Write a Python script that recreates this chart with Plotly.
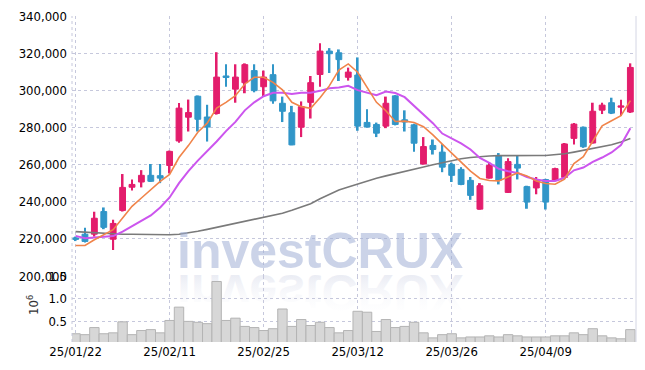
import base64
import plotly.graph_objects as go

dates = ["25/01/22", "25/01/23", "25/01/24", "25/01/31",
         "25/02/03", "25/02/04", "25/02/05", "25/02/06", "25/02/07", "25/02/10",
         "25/02/11", "25/02/12", "25/02/13", "25/02/14", "25/02/17", "25/02/18",
         "25/02/19", "25/02/20", "25/02/21", "25/02/24", "25/02/25", "25/02/26",
         "25/02/27", "25/02/28", "25/03/04", "25/03/05", "25/03/06", "25/03/07",
         "25/03/10", "25/03/11", "25/03/12", "25/03/13", "25/03/14", "25/03/17",
         "25/03/18", "25/03/19", "25/03/20", "25/03/21", "25/03/24", "25/03/25",
         "25/03/26", "25/03/27", "25/03/28", "25/03/31", "25/04/01", "25/04/02",
         "25/04/03", "25/04/04", "25/04/07", "25/04/08", "25/04/09", "25/04/10",
         "25/04/11", "25/04/14", "25/04/15", "25/04/16", "25/04/17", "25/04/18",
         "25/04/21", "25/04/22"]

open_ = [220500, 222500, 222500, 234700, 219800, 235300, 247800, 250600, 254200, 254000,
         259500, 272700, 285500, 296800, 285600, 287500, 307700, 300600, 304100, 310600,
         301900, 308400, 293000, 287900, 280100, 293500, 308500, 321100, 320200, 307000,
         308200, 282700, 281600, 280700, 297000, 284100, 281400, 260300, 270300, 266700,
         260100, 257400, 251500, 236000, 252700, 264800, 245000, 260100, 248100, 247400,
         251900, 251500, 253100, 274100, 280100, 271600, 289300, 293300, 290900, 288300]
high = [221200, 226000, 234600, 236900, 230300, 254900, 252000, 257000, 260300, 260300,
        267500, 293100, 295000, 297200, 292200, 320500, 314000, 314000, 314500, 314000,
        310600, 314000, 296600, 291600, 294000, 307700, 325300, 322700, 322000, 312200,
        317700, 289800, 282600, 296600, 297400, 289200, 282000, 274800, 273500, 271000,
        261000, 258600, 253300, 250000, 261300, 266200, 263400, 264800, 248600, 253300,
        252300, 258300, 271600, 282400, 280500, 293300, 293300, 296000, 294900, 314500]
low = [218800, 218000, 221200, 225200, 214000, 234700, 246100, 247700, 250600, 250000,
       255200, 271800, 277800, 277800, 272400, 286900, 301900, 293300, 298400, 298900,
       296600, 292800, 282900, 270400, 274800, 284800, 301900, 309300, 305000, 305200,
       278200, 280000, 274800, 279600, 281100, 277800, 266900, 260000, 265400, 255900,
       250600, 248900, 241000, 235700, 252500, 249300, 244700, 252000, 236200, 244000,
       235800, 251100, 252500, 270800, 269000, 271300, 287200, 287200, 286200, 287800]
close = [219700, 218600, 231100, 226200, 228300, 247700, 249300, 254200, 251000, 252700,
         267100, 290400, 288000, 284400, 280200, 307100, 306900, 307100, 313800, 299800,
         307100, 294300, 288700, 270600, 291200, 304100, 321100, 319700, 316500, 309800,
         280700, 280200, 276900, 293000, 281600, 282900, 271500, 269700, 268100, 258600,
         254200, 249300, 243400, 248600, 259500, 251600, 261600, 258100, 239800, 251500,
         239800, 257800, 271100, 281800, 269600, 288700, 292000, 287700, 291600, 312300]

ma_short = [216400, 216400, 219500, 222200, 224900, 231200, 237500, 242000, 246600, 251000,
            254700, 263800, 270200, 277400, 282300, 290400, 293500, 297100, 303400, 307000,
            307000, 304300, 300200, 293500, 291200, 290300, 296000, 302500, 310900, 314200,
            309700, 301600, 293500, 289000, 283200, 283400, 282700, 280400, 276000, 271000,
            266000, 261500, 256500, 252500, 251400, 251200, 253500, 255500, 253900, 251200,
            249800, 249400, 252100, 260500, 264200, 272800, 280900, 283600, 286300, 294400]
ma_mid = [221600, 220300, 220700, 221200, 221500, 223900, 226800, 229500, 232600, 236900,
          242300, 250000, 256500, 262100, 267000, 272400, 278000, 283000, 289200, 293500,
          296800, 298700, 298700, 298000, 298700, 298700, 299700, 301100, 301500, 302400,
          300100, 298700, 297300, 299300, 298500, 296300, 291600, 287100, 282300, 276700,
          274000, 271400, 268100, 263600, 260900, 257700, 256400, 255500, 253300, 252000,
          251200, 251200, 252900, 256900, 258400, 261400, 263800, 266500, 270500, 279500]
ma_long = [223900, 223600, 223100, 222800, 222600, 222500, 222500, 222400, 222300, 222200,
           222200, 222500, 223200, 224100, 225100, 226200, 227300, 228400, 229400, 230400,
           231400, 232500, 233800, 235400, 237300, 238900, 241600, 244100, 246300, 247900,
           249600, 251000, 252600, 253900, 255200, 256300, 257500, 258700, 259900, 261000,
           262000, 263100, 263800, 264300, 264600, 264800, 264900, 264900, 264900, 264900,
           264900, 265300, 265800, 266700, 267700, 268600, 269400, 270700, 272100, 274000]

# volume in millions of shares
volume_m = [0.24, 0.22, 0.375, 0.24, 0.26, 0.50, 0.22, 0.31, 0.33, 0.26,
            0.53, 0.82, 0.51, 0.49, 0.46, 1.38, 0.53, 0.58, 0.40, 0.375,
            0.31, 0.35, 0.78, 0.40, 0.55, 0.42, 0.49, 0.375, 0.26, 0.31,
            0.73, 0.71, 0.29, 0.55, 0.375, 0.40, 0.49, 0.26, 0.15, 0.22,
            0.24, 0.15, 0.17, 0.17, 0.195, 0.17, 0.22, 0.195, 0.17, 0.17,
            0.17, 0.195, 0.195, 0.26, 0.22, 0.35, 0.195, 0.15, 0.13, 0.33]

price_ticks = [200000, 220000, 240000, 260000, 280000, 300000, 320000, 340000]
vol_ticks = [0.5, 1.0, 1.5]
vol_tick_text = ["0.5", "1.0", "1.5"]
x_tick_labels = ["25/01/22", "25/02/11", "25/02/25", "25/03/12", "25/03/26", "25/04/09"]

PINK = "#e31d6c"
BLUE = "#3196c8"
GRID = "#c6c8dc"
FONT = "DejaVu Sans Condensed, Roboto, sans-serif"
TICKFONT = dict(family=FONT, size=13, color="#000000")

# candle geometry derived from the OHLC arrays
up = [c >= o for o, c in zip(open_, close)]
body_base = [min(o, c) for o, c in zip(open_, close)]
body_len = [abs(c - o) for o, c in zip(open_, close)]
wick_len = [h - l for h, l in zip(high, low)]
body_col = [PINK if u else BLUE for u in up]

fig = go.Figure()

fig.add_trace(go.Bar(
    x=dates, y=volume_m, xaxis="x", yaxis="y2", width=1.0,
    marker=dict(color="#d7d7d7", line=dict(color="#b4b4b4", width=1)),
    showlegend=False, hoverinfo="skip",
))

fig.add_trace(go.Scatter(
    x=dates, y=ma_long, mode="lines", line=dict(color="#7a7a7a", width=1.6),
    xaxis="x", yaxis="y", showlegend=False, hoverinfo="skip",
))
fig.add_trace(go.Scatter(
    x=dates, y=ma_mid, mode="lines", line=dict(color="#cc55ee", width=2),
    xaxis="x", yaxis="y", showlegend=False, hoverinfo="skip",
))
fig.add_trace(go.Scatter(
    x=dates, y=ma_short, mode="lines", line=dict(color="#f0844a", width=1.6),
    xaxis="x", yaxis="y", showlegend=False, hoverinfo="skip",
))

# wicks (thin bars from low to high)
fig.add_trace(go.Bar(
    x=dates, y=wick_len, base=low, width=0.2,
    marker=dict(color=body_col, line=dict(width=0)),
    xaxis="x", yaxis="y", showlegend=False, hoverinfo="skip",
))
# bodies
fig.add_trace(go.Bar(
    x=dates, y=body_len, base=body_base, width=0.62,
    marker=dict(color=body_col, line=dict(color=body_col, width=1)),
    xaxis="x", yaxis="y", showlegend=False,
    customdata=list(zip(open_, high, low, close)),
    hovertemplate="%{x}<br>O %{customdata[0]:,}<br>H %{customdata[1]:,}"
                  "<br>L %{customdata[2]:,}<br>C %{customdata[3]:,}<extra></extra>",
))

SPLIT = 0.2025

svg = (
    '<svg xmlns="http://www.w3.org/2000/svg" width="300" height="60" viewBox="0 0 300 60">'
    '<defs><linearGradient id="g" x1="0" y1="0" x2="0" y2="1">'
    '<stop offset="0" stop-color="#ffffff" stop-opacity="0"/>'
    '<stop offset="1" stop-color="#dfe2ee" stop-opacity="1"/>'
    '</linearGradient></defs>'
    '<g transform="scale(1,-1)">'
    '<text x="150" y="0" text-anchor="middle" font-family="Liberation Sans, Arial, sans-serif" '
    'font-weight="bold" font-size="50" fill="url(#g)">investCRUX</text></g></svg>'
)
svg_uri = "data:image/svg+xml;base64," + base64.b64encode(svg.encode()).decode()

fig.update_layout(
    width=645, height=370,
    margin=dict(l=72, r=9, t=16, b=28, autoexpand=False),
    paper_bgcolor="white", plot_bgcolor="rgba(0,0,0,0)",
    font=dict(family=FONT, size=13, color="#1a1a1a"),
    barmode="overlay",
    showlegend=False,
    xaxis=dict(
        type="category", categoryorder="array", categoryarray=dates,
        anchor="y2", range=[-0.38, 59.6],
        tickmode="array", tickvals=x_tick_labels, ticktext=x_tick_labels,
        showgrid=True, gridcolor=GRID, griddash="dot", gridwidth=1,
        showline=False, zeroline=False, ticks="", automargin=False,
        tickangle=0, tickfont=TICKFONT,
    ),
    yaxis=dict(
        domain=[SPLIT, 1], range=[200000, 340000],
        tickmode="array", tickvals=price_ticks, tickformat=",",
        showgrid=True, gridcolor=GRID, griddash="dot", gridwidth=1,
        showline=False, zeroline=False, ticks="", automargin=False,
        tickfont=TICKFONT, ticklabelstandoff=4,
    ),
    yaxis2=dict(
        domain=[0, SPLIT], range=[0.06, 1.5],
        tickmode="array", tickvals=vol_ticks, ticktext=vol_tick_text,
        showgrid=True, gridcolor=GRID, griddash="dot", gridwidth=1,
        showline=False, zeroline=False, ticks="", automargin=False,
        tickfont=TICKFONT, ticklabelstandoff=4,
    ),
    shapes=[
        dict(type="line", xref="paper", yref="paper", x0=0, x1=0, y0=0, y1=1,
             line=dict(color=GRID, width=1, dash="dot")),
        dict(type="line", xref="paper", yref="paper", x0=1, x1=1, y0=0, y1=1,
             line=dict(color="#d4d6e4", width=1)),
    ],
    images=[dict(
        source=svg_uri, xref="paper", yref="paper",
        x=(170 - 72) / 564, y=(342 - 275) / 326,
        sizex=300 / 564, sizey=60 / 326,
        xanchor="left", yanchor="top", sizing="stretch", layer="below",
    )],
    annotations=[
        dict(text="investCRUX", xref="paper", yref="paper",
             x=(320 - 72) / 564, y=(342 - 251) / 326, xanchor="center", yanchor="middle",
             showarrow=False,
             font=dict(family="Liberation Sans, Arial, sans-serif", size=50,
                       color="rgba(160,174,214,0.55)", weight="bold")),
        dict(text="10<sup>6</sup>", xref="paper", yref="paper",
             x=(33 - 72) / 564, y=(342 - 305) / 326, xanchor="center", yanchor="middle",
             textangle=-90, showarrow=False,
             font=dict(family=FONT, size=13, color="#333333")),
    ],
)

fig.write_html("out.html", config={"displayModeBar": False},
               post_script="document.body.style.margin='0';")
